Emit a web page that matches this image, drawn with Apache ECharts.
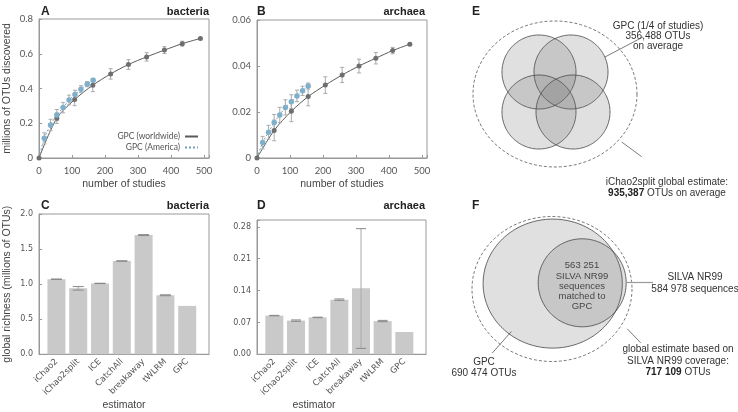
<!DOCTYPE html>
<html><head><meta charset="utf-8">
<script src="https://cdn.jsdelivr.net/npm/echarts@6/dist/echarts.min.js"></script>
<style>html,body{margin:0;padding:0;background:#fff}#c{width:738px;height:412px}</style>
</head><body><div id="c"></div><script>
// ---------------- data ----------------
// Panel A (bacteria) accumulation curves
const studiesBacWorld = [54, 108, 163, 217, 271, 326, 380, 434, 489];
const otusBacWorld    = [0.229, 0.336, 0.419, 0.484, 0.538, 0.582, 0.621, 0.658, 0.688];
const errBacWorld     = [0.030, 0.035, 0.037, 0.030, 0.028, 0.024, 0.020, 0.014, 0.004];
const studiesBacAm    = [16, 35, 54, 73, 91, 109, 127, 146, 164];
const otusBacAm       = [0.113, 0.190, 0.247, 0.290, 0.334, 0.365, 0.396, 0.425, 0.448];
const errBacAm        = [0.032, 0.033, 0.032, 0.030, 0.028, 0.025, 0.020, 0.015, 0.010];
// Panel B (archaea) accumulation curves
const studiesArcWorld = [52, 104, 155, 207, 258, 309, 360, 411, 463];
const otusArcWorld    = [0.0120, 0.0203, 0.0267, 0.0317, 0.0361, 0.0400, 0.0434, 0.0467, 0.0495];
const errArcWorld     = [0.0045, 0.0045, 0.0040, 0.0036, 0.0033, 0.0030, 0.0025, 0.0014, 0.0005];
const studiesArcAm    = [17, 35, 52, 69, 86, 104, 121, 138, 155];
const otusArcAm       = [0.0067, 0.0112, 0.0154, 0.0187, 0.0220, 0.0245, 0.0270, 0.0292, 0.0313];
const errArcAm        = [0.0027, 0.0030, 0.0035, 0.0033, 0.0033, 0.0030, 0.0025, 0.0020, 0.0013];
// Panels C, D global richness estimates
const estimators = ['iChao2', 'iChao2split', 'ICE', 'CatchAll', 'breakaway', 'tWLRM', 'GPC'];
const richBac    = [1.07, 0.94, 1.01, 1.33, 1.70, 0.84, 0.69];
const richBacLo  = [1.067, 0.915, 1.008, 1.327, 1.692, 0.835, 0.690];
const richBacHi  = [1.073, 0.965, 1.013, 1.333, 1.706, 0.848, 0.690];
const richArc    = [0.085, 0.074, 0.081, 0.120, 0.145, 0.073, 0.049];
const richArcLo  = [0.0845, 0.0725, 0.0805, 0.1185, 0.013, 0.0715, 0.049];
const richArcHi  = [0.0855, 0.0755, 0.0815, 0.1215, 0.276, 0.0745, 0.049];
// Tick labels
const ticksA_x = [0, 100, 200, 300, 400, 500];
const ticksA_y = [0, 0.2, 0.4, 0.6, 0.8];
const ticksB_y = [0, 0.02, 0.04, 0.06];
const ticksC_y = [0, 0.5, 1.0, 1.5, 2.0];
const ticksD_y = [0, 0.07, 0.14, 0.21, 0.28];
// Venn diagrams (diagram units): [cx, cy, rx, ry, kind]
const vennE = [
  [0, 0, 82, 73, 'dash'],
  [-16, -22, 37, 37, 'fill'],
  [16, -22, 37, 37, 'fill'],
  [-16, 18, 37, 37, 'fill'],
  [18, 18, 37, 37, 'fill']
];
const leadersE = [[50, -37, 88, -57, 'dark'], [66.7, 48, 86.7, 62.7, 'dark']];
const vennF = [
  [0, 0, 80, 72.5, 'dash'],
  [0.7, -5.4, 69.6, 64.5, 'fill'],
  [30.2, -6.2, 44, 44, 'fill']
];
const leadersF = [[-40.6, 42.5, -59.8, 64.1, 'dark'], [74.4, -6.5, 101, -6.5, 'light'], [75.2, 39.8, 88.7, 53.8, 'dark']];
const legendNames = ['GPC (worldwide)', 'GPC (America)'];

// ---------------- helpers ----------------
const zip = (xs, ys) => xs.map((x, i) => [x, ys[i]]);
const errData = (xs, ys, es) => xs.map((x, i) => [x, ys[i] - es[i], ys[i] + es[i]]);
const loHi = (lo, hi) => lo.map((l, i) => [i, l, hi[i]]);
const TICK_FONT = 'Lato';
const TITLE_FONT = 'Liberation Sans';

function errRender(capW, color, capColor) {
  return function (params, api) {
    const x = api.value(0), lo = api.value(1), hi = api.value(2);
    if (hi - lo <= 0) return null;
    const p1 = api.coord([x, lo]), p2 = api.coord([x, hi]);
    const s = { stroke: color, lineWidth: 1 };
    const c = { stroke: capColor, lineWidth: 1 };
    return { type: 'group', children: [
      { type: 'line', shape: { x1: p1[0], y1: p1[1], x2: p2[0], y2: p2[1] }, style: s },
      { type: 'line', shape: { x1: p1[0] - capW / 2, y1: p1[1], x2: p1[0] + capW / 2, y2: p1[1] }, style: c },
      { type: 'line', shape: { x1: p2[0] - capW / 2, y1: p2[1], x2: p2[0] + capW / 2, y2: p2[1] }, style: c }
    ]};
  };
}
function vennRender(params, api) {
  const cx = api.value(0), cy = api.value(1), rx = api.value(2), ry = api.value(3);
  const kind = api.value(4);
  const c = api.coord([cx, cy]);
  const sx = Math.abs(api.size([rx, 0])[0]), sy = Math.abs(api.size([0, ry])[1]);
  const pts = [];
  for (let k = 0; k < 180; k++) {
    const t = k / 180 * Math.PI * 2;
    pts.push([c[0] + sx * Math.cos(t), c[1] + sy * Math.sin(t)]);
  }
  if (kind === 'dash') {
    return { type: 'polygon', shape: { points: pts }, style: { fill: 'none', stroke: '#555', lineWidth: 0.8, lineDash: [3, 2] } };
  }
  return { type: 'polygon', shape: { points: pts }, style: { fill: 'rgba(100,100,100,0.2)', stroke: '#444', lineWidth: 0.8 } };
}
function leaderRender(params, api) {
  const a = api.coord([api.value(0), api.value(1)]), b = api.coord([api.value(2), api.value(3)]);
  const light = api.value(4) === 'light';
  return { type: 'line', shape: { x1: a[0], y1: a[1], x2: b[0], y2: b[1] },
    style: { stroke: light ? '#999' : '#444', lineWidth: light ? 1.2 : 0.7 } };
}
const near = (v, list) => list.some(t => Math.abs(t - v) < 1e-9);

function valueAxis(gi, min, max, interval, ticks, fmt, extra) {
  return Object.assign({
    type: 'value', gridIndex: gi, min, max, interval,
    axisLine: { show: true, onZero: false, lineStyle: { color: '#999', width: 1 } },
    axisTick: { show: true, inside: true, length: 3, lineStyle: { color: '#999' } },
    splitLine: { show: false },
    axisLabel: { color: '#555', fontFamily: TICK_FONT, fontSize: 9.5, margin: 6,
      formatter: v => near(v, ticks) ? fmt(v) : '' },
    nameTextStyle: { color: '#444', fontFamily: TITLE_FONT, fontSize: 10.5 }
  }, extra || {});
}
function hiddenAxis(gi, min, max, inverse) {
  return { type: 'value', gridIndex: gi, min, max, inverse: !!inverse, show: false,
    axisLine: { onZero: false }, splitLine: { show: false } };
}
function catAxis(gi, namePad) {
  return {
    type: 'value', gridIndex: gi, min: -0.8, max: 7.0,
    axisLine: { show: true, onZero: false, lineStyle: { color: '#999' } },
    axisTick: { show: false },
    splitLine: { show: false },
    axisLabel: { rotate: 45, margin: 6, color: '#555', fontFamily: 'DejaVu Sans', fontSize: 8.5,
      customValues: [0, 1, 2, 3, 4, 5, 6],
      formatter: v => estimators[Math.round(v)] || '' },
    name: 'estimator', nameLocation: 'middle', nameGap: 42,
    nameTextStyle: { color: '#444', fontFamily: TITLE_FONT, fontSize: 10.5, padding: namePad || 0 }
  };
}
const boxGrid = (l, t, w, h) => ({ left: l, top: t, width: w, height: h, show: true, borderColor: '#999', borderWidth: 1, backgroundColor: 'transparent' });

const fmt1 = v => v === 0 ? '0' : v.toFixed(1);
const fmt2 = v => v === 0 ? '0' : v.toFixed(2);
const smallTick = { color: '#555', fontFamily: 'DejaVu Sans', fontSize: 8, margin: 6 };

const grayMk = '#6e6e6e', blueMk = '#7eafcb', blueLine = '#6e9fbe', grayLine = '#5a5a5a';
const ebColor = '#aaaaaa';

const option = {
  animation: false,
  backgroundColor: '#fff',
  grid: [
    boxGrid(39, 19, 170, 139),
    boxGrid(257, 20, 170, 138),
    boxGrid(39, 214, 170, 141),
    boxGrid(257, 220, 169, 135),
    { left: 470, top: 9, width: 170, height: 170, show: false },
    { left: 467, top: 204, width: 170, height: 170, show: false }
  ],
  xAxis: [
    valueAxis(0, 0, 515, 100, ticksA_x, v => String(v), { name: 'number of studies', nameLocation: 'middle', nameGap: 21,
      axisLabel: { color: '#555', fontFamily: TICK_FONT, fontSize: 9.5, margin: 8, formatter: v => near(v, ticksA_x) ? String(v) : '' } }),
    valueAxis(1, 0, 515, 100, ticksA_x, v => String(v), { name: 'number of studies', nameLocation: 'middle', nameGap: 21,
      axisLabel: { color: '#555', fontFamily: TICK_FONT, fontSize: 9.5, margin: 8, formatter: v => near(v, ticksA_x) ? String(v) : '' } }),
    catAxis(2),
    catAxis(3, [0, 55, 0, 0]),
    hiddenAxis(4, -85, 85),
    hiddenAxis(5, -85, 85)
  ],
  yAxis: [
    valueAxis(0, 0, 0.8, 0.2, ticksA_y, fmt1, { name: 'millions of OTUs discovered', nameLocation: 'middle', nameGap: 26 }),
    valueAxis(1, 0, 0.06, 0.02, ticksB_y, fmt2),
    valueAxis(2, 0, 2.0, 0.5, ticksC_y, v => v.toFixed(1), { name: 'global richness (millions of OTUs)', nameLocation: 'middle', nameGap: 26,
      axisLabel: Object.assign({}, smallTick, { formatter: v => near(v, ticksC_y) ? v.toFixed(1) : '' }) }),
    valueAxis(3, 0, 0.295, 0.07, ticksD_y, v => v.toFixed(2), {
      axisLabel: Object.assign({}, smallTick, { formatter: v => near(v, ticksD_y) ? v.toFixed(2) : '' }) }),
    hiddenAxis(4, -85, 85, true),
    hiddenAxis(5, -85, 85, true)
  ],
  legend: {
    data: legendNames, orient: 'vertical', align: 'right', right: 539, top: 132, padding: 0,
    itemWidth: 13, itemHeight: 8, itemGap: 2, selectedMode: false,
    itemStyle: { color: 'rgba(0,0,0,0)', borderColor: 'rgba(0,0,0,0)', borderWidth: 0 },
    textStyle: { color: '#555', fontFamily: TICK_FONT, fontSize: 8.5 }
  },
  series: [
    // Panel A
    { type: 'line', name: legendNames[0], xAxisIndex: 0, yAxisIndex: 0, data: [[0, 0]].concat(zip(studiesBacWorld, otusBacWorld)),
      symbol: 'none', smooth: 0.3, lineStyle: { color: grayLine, width: 1 }, itemStyle: { color: grayLine }, z: 2 },
    { type: 'line', name: legendNames[1], xAxisIndex: 0, yAxisIndex: 0, data: [[0, 0]].concat(zip(studiesBacAm, otusBacAm)),
      symbol: 'none', smooth: 0.3, lineStyle: { color: blueLine, width: 1, type: [2, 2] }, itemStyle: { color: blueLine }, z: 2 },
    { type: 'custom', xAxisIndex: 0, yAxisIndex: 0, data: errData(studiesBacWorld, otusBacWorld, errBacWorld), renderItem: errRender(4, ebColor, ebColor), encode: { x: 0, y: [1, 2] }, z: 3 },
    { type: 'custom', xAxisIndex: 0, yAxisIndex: 0, data: errData(studiesBacAm, otusBacAm, errBacAm), renderItem: errRender(4, ebColor, ebColor), encode: { x: 0, y: [1, 2] }, z: 3 },
    { type: 'scatter', xAxisIndex: 0, yAxisIndex: 0, data: [[0, 0]].concat(zip(studiesBacWorld, otusBacWorld)), symbolSize: 5, itemStyle: { color: grayMk, opacity: 1 }, z: 4 },
    { type: 'scatter', xAxisIndex: 0, yAxisIndex: 0, data: zip(studiesBacAm, otusBacAm), symbolSize: 5.5, itemStyle: { color: blueMk, opacity: 1 }, z: 4 },
    // Panel B
    { type: 'line', name: legendNames[0], xAxisIndex: 1, yAxisIndex: 1, data: [[0, 0]].concat(zip(studiesArcWorld, otusArcWorld)),
      symbol: 'none', smooth: 0.3, lineStyle: { color: grayLine, width: 1 }, itemStyle: { color: grayLine }, z: 2 },
    { type: 'line', name: legendNames[1], xAxisIndex: 1, yAxisIndex: 1, data: [[0, 0]].concat(zip(studiesArcAm, otusArcAm)),
      symbol: 'none', smooth: 0.3, lineStyle: { color: blueLine, width: 1, type: [2, 2] }, itemStyle: { color: blueLine }, z: 2 },
    { type: 'custom', xAxisIndex: 1, yAxisIndex: 1, data: errData(studiesArcWorld, otusArcWorld, errArcWorld), renderItem: errRender(4, ebColor, ebColor), encode: { x: 0, y: [1, 2] }, z: 3 },
    { type: 'custom', xAxisIndex: 1, yAxisIndex: 1, data: errData(studiesArcAm, otusArcAm, errArcAm), renderItem: errRender(4, ebColor, ebColor), encode: { x: 0, y: [1, 2] }, z: 3 },
    { type: 'scatter', xAxisIndex: 1, yAxisIndex: 1, data: [[0, 0]].concat(zip(studiesArcWorld, otusArcWorld)), symbolSize: 5, itemStyle: { color: grayMk, opacity: 1 }, z: 4 },
    { type: 'scatter', xAxisIndex: 1, yAxisIndex: 1, data: zip(studiesArcAm, otusArcAm), symbolSize: 5.5, itemStyle: { color: blueMk, opacity: 1 }, z: 4 },
    // Panel C
    { type: 'bar', xAxisIndex: 2, yAxisIndex: 2, data: richBac.map((v, i) => [i, v]), barWidth: 18, itemStyle: { color: '#c9c9c9' }, z: 2 },
    { type: 'custom', xAxisIndex: 2, yAxisIndex: 2, data: loHi(richBacLo, richBacHi), renderItem: errRender(11, '#aaa', '#888'), encode: { x: 0, y: [1, 2] }, z: 3 },
    // Panel D
    { type: 'bar', xAxisIndex: 3, yAxisIndex: 3, data: richArc.map((v, i) => [i, v]), barWidth: 18, itemStyle: { color: '#c9c9c9' }, z: 2 },
    { type: 'custom', xAxisIndex: 3, yAxisIndex: 3, data: loHi(richArcLo, richArcHi), renderItem: errRender(10, '#aaa', '#888'), encode: { x: 0, y: [1, 2] }, z: 3 },
    // Panel E venn
    { type: 'custom', xAxisIndex: 4, yAxisIndex: 4, data: vennE, renderItem: vennRender, encode: { x: 0, y: 1 }, z: 2 },
    { type: 'custom', xAxisIndex: 4, yAxisIndex: 4, data: leadersE, renderItem: leaderRender, encode: { x: 0, y: 1 }, z: 3 },
    // Panel F venn
    { type: 'custom', xAxisIndex: 5, yAxisIndex: 5, data: vennF, renderItem: vennRender, encode: { x: 0, y: 1 }, z: 2 },
    { type: 'custom', xAxisIndex: 5, yAxisIndex: 5, data: leadersF, renderItem: leaderRender, encode: { x: 0, y: 1 }, z: 3 }
  ],
  graphic: (function () {
    const out = [];
    const T = (text, x, y, opt) => out.push({ type: 'text', x, y, silent: true, style: Object.assign({
      text, textAlign: 'center', textVerticalAlign: 'middle', fill: '#333', font: '10px "Liberation Sans"' }, opt || {}) });
    const L = (t, x, y) => T(t, x, y, { textAlign: 'left', font: 'bold 12px "Liberation Sans"', fill: '#222' });
    const R = (t, x, y) => T(t, x, y, { textAlign: 'right', font: 'bold 11px "Liberation Sans"', fill: '#222' });
    L('A', 41, 12); R('bacteria', 209, 12);
    L('B', 257, 12); R('archaea', 425, 12);
    L('C', 41, 206); R('bacteria', 209, 206);
    L('D', 257, 206); R('archaea', 425, 206);
    L('E', 472, 12); L('F', 472, 206);
    T('GPC (1/4 of studies)', 658, 26);
    T('356,488 OTUs', 658, 36);
    T('on average', 658, 46);
    T('iChao2split global estimate:', 667, 182);
    T('{b|935,387} OTUs on average', 667, 193, { rich: { b: { font: 'bold 10px "Liberation Sans"', fill: '#222' } } });
    const f9 = '9.5px "Liberation Sans"';
    T('563 251', 582, 265, { font: f9 });
    T('SILVA NR99', 582, 276, { font: f9 });
    T('sequences', 582, 286, { font: f9 });
    T('matched to', 582, 296, { font: f9 });
    T('GPC', 582, 306, { font: f9 });
    T('SILVA NR99', 695, 277);
    T('584 978 sequences', 695, 289);
    T('global estimate based on', 678, 349);
    T('SILVA NR99 coverage:', 678, 361);
    T('{b|717 109} OTUs', 678, 372, { rich: { b: { font: 'bold 10px "Liberation Sans"', fill: '#222' } } });
    T('GPC', 484, 362);
    T('690 474 OTUs', 484, 373);
    return out;
  })()
};
const chart = echarts.init(document.getElementById('c'), null, { renderer: 'canvas' });
chart.setOption(option);
</script></body></html>
